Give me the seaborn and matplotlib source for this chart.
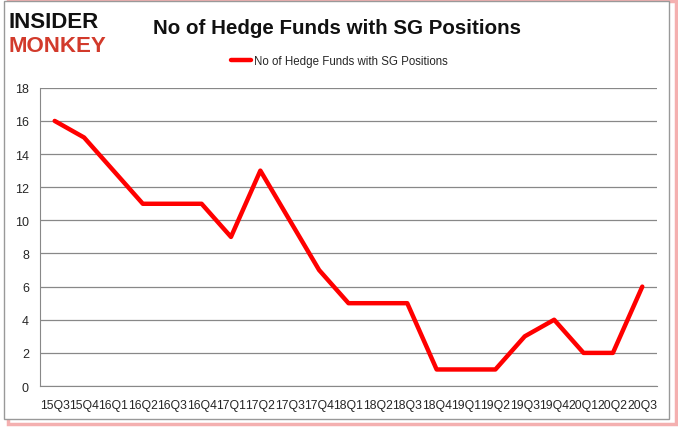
import matplotlib.pyplot as plt
import pandas as pd
import seaborn as sns
from matplotlib.patches import Rectangle

quarters = ["15Q3", "15Q4", "16Q1", "16Q2", "16Q3", "16Q4", "17Q1", "17Q2",
            "17Q3", "17Q4", "18Q1", "18Q2", "18Q3", "18Q4", "19Q1", "19Q2",
            "19Q3", "19Q4", "20Q1", "20Q2", "20Q3"]
funds = [16, 15, 13, 11, 11, 11, 9, 13, 10, 7, 5, 5, 5, 1, 1, 1, 3, 4, 2, 2, 6]
series_name = "No of Hedge Funds with SG Positions"

df = pd.DataFrame({"quarter": quarters, "funds": funds})
df["pos"] = range(len(df))

sns.set_style("white")
plt.rcParams["font.family"] = ["Liberation Sans", "DejaVu Sans"]

fig = plt.figure(figsize=(6.78, 4.31), dpi=100)

# frame around the chart, with a soft red shadow (kept behind the axes)
fig.patches.append(Rectangle((0.012, 0.015), 0.985, 0.98, transform=fig.transFigure,
                             fill=False, edgecolor="#f4b0b0", linewidth=2.5, zorder=-10))
fig.patches.append(Rectangle((0.006, 0.025), 0.98, 0.97, transform=fig.transFigure,
                             facecolor="white", edgecolor="#999999", linewidth=1, zorder=-9))

ax = fig.add_axes([0.059, 0.102, 0.91, 0.692])

sns.lineplot(data=df, x="pos", y="funds", color="#ff0000", linewidth=3.2,
             ax=ax, label=series_name, legend=False)

ax.set_xlim(-0.5, len(quarters) - 0.5)
ax.set_ylim(0, 18)
ax.set_yticks(range(0, 19, 2))
ax.set_xticks(range(len(quarters)))
ax.set_xticklabels(quarters, fontsize=8.8)
ax.tick_params(axis="y", labelsize=9, length=4, color="#888888", pad=4)
ax.tick_params(axis="x", length=0, pad=9)
# minor ticks between categories, like the original
ax.set_xticks([i - 0.5 for i in range(len(quarters) + 1)], minor=True)
ax.tick_params(axis="x", which="minor", length=4, color="#888888", direction="out")
ax.grid(axis="y", color="#888888", linewidth=0.9)
ax.set_axisbelow(True)
ax.patch.set_alpha(0)
for side in ["top", "right"]:
    ax.spines[side].set_visible(False)
for side in ["left", "bottom"]:
    ax.spines[side].set_color("#888888")
ax.set_xlabel("")
ax.set_ylabel("")

# title and legend
fig.text(0.497, 0.935, series_name, ha="center", va="center",
         fontsize=14.8, fontweight="bold", color="#111111")
fig.legend(handles=ax.get_lines()[:1], labels=[series_name], loc="center",
           bbox_to_anchor=(0.5, 0.857), frameon=False, fontsize=8.3,
           handlelength=1.8, handletextpad=0.2)

# logo
fig.text(0.012, 0.948, "INSIDER", ha="left", va="center", fontsize=16,
         fontweight="black", color="#111111")
fig.text(0.012, 0.893, "MONKEY", ha="left", va="center", fontsize=16,
         fontweight="black", color="#d23a2b")

fig.savefig("out.png", dpi=100)
